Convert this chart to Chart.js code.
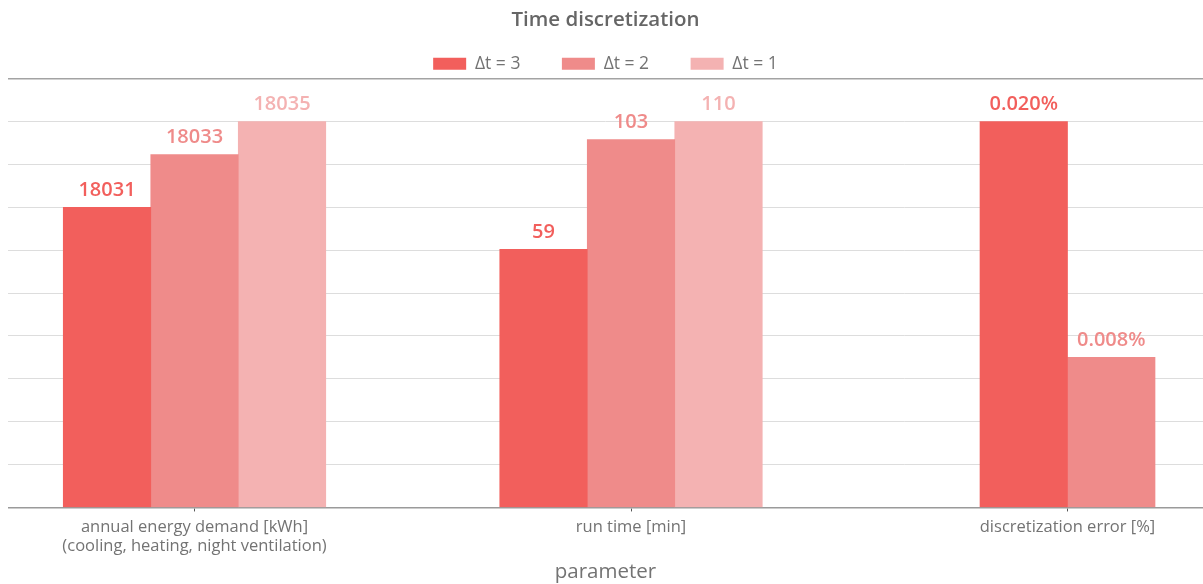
<!DOCTYPE html>
<html>
<head>
<meta charset="utf-8">
<script src="https://cdn.jsdelivr.net/npm/chart.js@4.4.1/dist/chart.umd.min.js"></script>
<style>
  html, body { margin: 0; padding: 0; background: #ffffff; }
  #wrap { position: absolute; left: 8px; top: 0; width: 1195px; height: 584px; }
</style>
</head>
<body>
<div id="wrap"><canvas id="c"></canvas></div>
<script>
// ---- data ----
const categories = [
  ['annual energy demand [kWh]', '(cooling, heating, night ventilation)'],
  'run time [min]',
  'discretization error [%]'
];
const seriesNames = ['Δt = 3', 'Δt = 2', 'Δt = 1'];
// bar heights on the (unlabelled) relative axis, 0..10
const heightsDt3 = [7.0, 6.02, 9.0];
const heightsDt2 = [8.23, 8.58, 3.5];
const heightsDt1 = [9.0, 9.0, null];
// value labels printed above the bars
const labelsDt3 = ['18031', '59', '0.020%'];
const labelsDt2 = ['18033', '103', '0.008%'];
const labelsDt1 = ['18035', '110', null];
const yTicks = [0, 1, 2, 3, 4, 5, 6, 7, 8, 9, 10];

const colors = ['#F25F5C', '#EF8B8A', '#F4B2B2'];
const allHeights = [heightsDt3, heightsDt2, heightsDt1];
const allLabels = [labelsDt3, labelsDt2, labelsDt1];

const datasets = allHeights.map((h, di) => ({
  label: seriesNames[di],
  data: h.map((v, i) => ({ x: i, y: v })),
  backgroundColor: colors[di],
  borderColor: colors[di],
  borderWidth: 0,
  barThickness: 87.5,
  skipNull: true,
  grouped: true
}));

const valueLabels = {
  id: 'valueLabels',
  afterDatasetsDraw(chart) {
    const ctx = chart.ctx;
    ctx.save();
    ctx.font = '600 20px "Open Sans"';
    ctx.textAlign = 'center';
    ctx.textBaseline = 'alphabetic';
    chart.data.datasets.forEach((ds, di) => {
      const meta = chart.getDatasetMeta(di);
      meta.data.forEach((bar, i) => {
        const txt = allLabels[di][i];
        if (txt == null || allHeights[di][i] == null) return;
        ctx.fillStyle = colors[di];
        ctx.fillText(txt, bar.x, bar.y - 11.5);
      });
    });
    ctx.restore();
  }
};

const legendFix = {
  id: 'legendFix',
  beforeLayout(chart) {
    const lg = chart.legend;
    if (lg && !lg._patched) {
      const orig = lg.fit;
      lg.fit = function () { orig.call(this); this.height = 65; };
      lg._patched = true;
    }
  }
};

const textGray = '#737373';

new Chart(document.getElementById('c'), {
  type: 'bar',
  data: { datasets },
  plugins: [legendFix, valueLabels],
  options: {
    responsive: true,
    maintainAspectRatio: false,
    animation: false,
    layout: { padding: 0 },
    plugins: {
      title: {
        display: true,
        text: 'Time discretization',
        color: '#666666',
        font: { family: 'Open Sans', size: 20.5, weight: '600', lineHeight: 1.2 },
        padding: { top: 8, bottom: -19 }
      },
      legend: {
        display: true,
        position: 'top',
        labels: {
          boxWidth: 33,
          boxHeight: 12,
          padding: 41.5,
          color: textGray,
          font: { family: 'Open Sans', size: 17.5 }
        }
      },
      tooltip: { enabled: false }
    },
    scales: {
      x: {
        type: 'linear',
        offset: false,
        min: -0.4273,
        max: 2.3104,
        afterBuildTicks(scale) {
          scale.ticks = categories.map((c, i) => ({ value: i }));
        },
        ticks: {
          autoSkip: false,
          maxRotation: 0,
          minRotation: 0,
          padding: 6,
          color: textGray,
          font: { family: 'Open Sans', size: 16.5, lineHeight: 1.15 },
          callback: (v, i) => categories[i]
        },
        grid: {
          offset: false,
          drawOnChartArea: false,
          drawTicks: true,
          tickLength: 4,
          color: '#555555'
        },
        border: { display: true, color: '#9a9a9a', width: 1.5 },
        title: {
          display: true,
          text: 'parameter',
          color: textGray,
          font: { family: 'Open Sans', size: 20.5, lineHeight: 1.2 },
          padding: { top: -2, bottom: 0 }
        }
      },
      y: {
        min: 0,
        max: 10,
        afterBuildTicks(scale) {
          scale.ticks = yTicks.map(v => ({ value: v }));
        },
        ticks: { display: false },
        grid: {
          drawTicks: false,
          color: c => (c.tick && c.tick.value === 10) ? '#a3a3a3' : '#dddddd',
          lineWidth: c => (c.tick && c.tick.value === 10) ? 1.5 : 1
        },
        border: { display: false }
      }
    }
  }
});
</script>
</body>
</html>
